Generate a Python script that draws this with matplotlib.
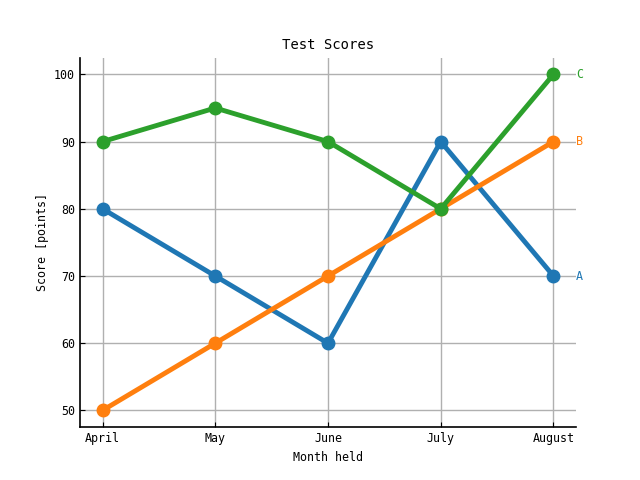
import matplotlib
matplotlib.use("Agg")
import matplotlib.pyplot as plt

months = ["April", "May", "June", "July", "August"]
series_names = ["A", "B", "C"]
A = [80, 70, 60, 90, 70]
B = [50, 60, 70, 80, 90]
C = [90, 95, 90, 80, 100]
colors = ["#1f77b4", "#ff7f0e", "#2ca02c"]

plt.rcParams['font.family'] = ['DejaVu Sans Mono']
plt.rcParams['xtick.direction'] = 'in'
plt.rcParams['ytick.direction'] = 'in'
fs = 8.4

fig, ax = plt.subplots(figsize=(6.4, 4.8), dpi=100)
x = list(range(len(months)))
for name, vals, c in zip(series_names, [A, B, C], colors):
    ax.plot(x, vals, color=c, lw=3.5, marker='o', markersize=9, zorder=3)
    ax.text(x[-1] + 0.2, vals[-1], name, color=c, va='center', ha='left', fontsize=fs)

ax.set_xticks(x)
ax.set_xticklabels(months)
ax.set_yticks([50, 60, 70, 80, 90, 100])
ax.tick_params(labelsize=fs)
ax.grid(True, color='#b0b0b0', lw=1)
ax.set_axisbelow(True)
ax.spines['top'].set_visible(False)
ax.spines['right'].set_visible(False)
ax.spines['left'].set_linewidth(1.2)
ax.spines['bottom'].set_linewidth(1.2)
ax.set_title("Test Scores", fontsize=10)
ax.set_xlabel("Month held", fontsize=fs)
ax.set_ylabel("Score [points]", fontsize=fs)
fig.savefig("out.png", dpi=100)
